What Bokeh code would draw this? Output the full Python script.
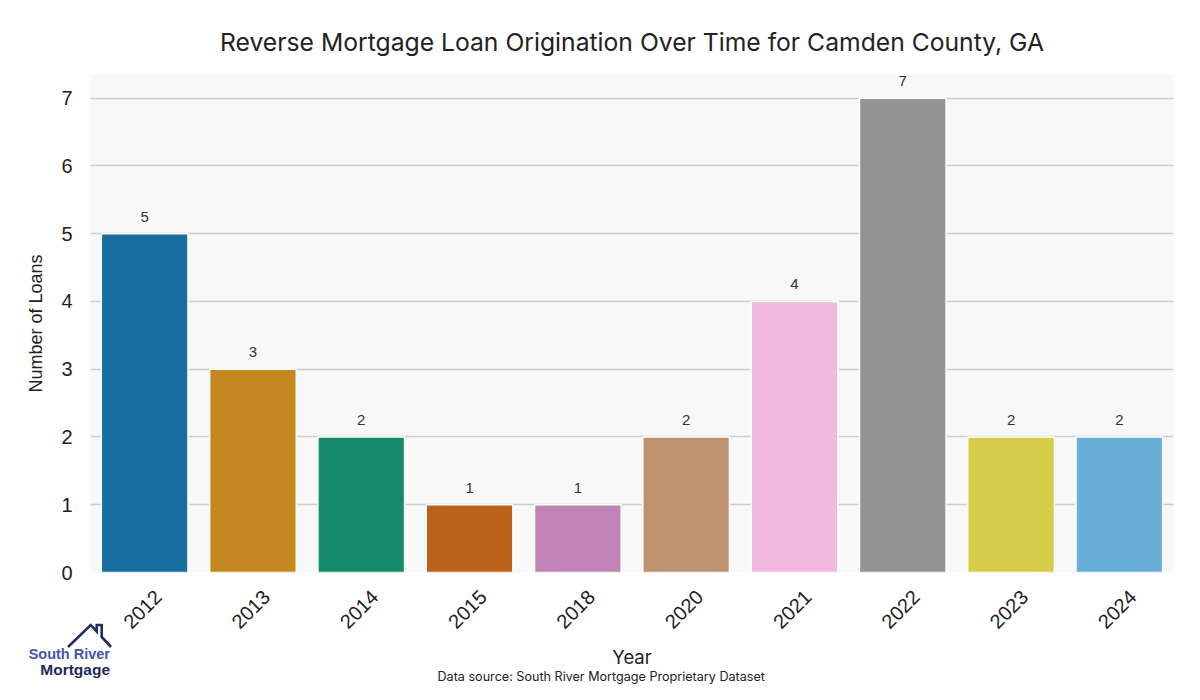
import colorsys
from bokeh.plotting import figure
from bokeh.models import ColumnDataSource, Range1d, FixedTicker, Title, Div
from bokeh.layouts import column
from bokeh.embed import file_html
from bokeh.resources import INLINE
from bokeh.core.properties import value

years = ["2012", "2013", "2014", "2015", "2018", "2020", "2021", "2022", "2023", "2024"]
loans = [5, 3, 2, 1, 1, 2, 4, 7, 2, 2]
base_palette = ["#0173b2", "#de8f05", "#029e73", "#d55e00", "#cc78bc",
                "#ca9161", "#fbafe4", "#949494", "#ece133", "#56b4e9"]
title_text = "Reverse Mortgage Loan Origination Over Time for Camden County, GA"
x_label = "Year"
y_label = "Number of Loans"
source_text = "Data source: South River Mortgage Proprietary Dataset"
logo_top = "South River"
logo_bottom = "Mortgage"


def desat(hexc, prop=0.75):
    r, g, b = (int(hexc[i:i + 2], 16) / 255 for i in (1, 3, 5))
    h, l, s = colorsys.rgb_to_hls(r, g, b)
    r, g, b = colorsys.hls_to_rgb(h, l, s * prop)
    return "#%02x%02x%02x" % (round(r * 255), round(g * 255), round(b * 255))


colors = [desat(c) for c in base_palette]
xpos = list(range(len(years)))

W, H = 1184, 684
FL, FT, FB, FR = 90, 74, 572, 1173  # frame edges in picture pixels
src = ColumnDataSource(dict(x=xpos, top=loans, color=colors, lab=[str(v) for v in loans]))

p = figure(width=W, height=H, x_range=Range1d(-0.5, len(years) - 0.5),
           y_range=Range1d(0, 7.35), output_backend="svg", toolbar_location=None,
           min_border_left=FL, min_border_right=W - FR, min_border_top=FT,
           min_border_bottom=H - FB)
p.background_fill_color = "#f8f8f8"
p.border_fill_color = "white"
p.outline_line_color = None

p.title.text = title_text
p.title.align = "center"
p.title.text_font = "Inter"
p.title.text_font_size = "24.7px"
p.title.text_font_style = "normal"
p.title.text_color = "#222222"
p.title.standoff = 35

p.vbar(x="x", top="top", width=0.8, source=src, fill_color="color",
       line_color="white", line_width=1.5)
p.text(x="x", y="top", text="lab", source=src, text_align="center",
       text_baseline="alphabetic", y_offset=-17, text_font_size="15px",
       text_color="#333333", text_font=value("Liberation Sans"))

p.xgrid.grid_line_color = None
p.ygrid.grid_line_color = "#cccccc"
p.ygrid.grid_line_width = 1.5
p.yaxis.ticker = FixedTicker(ticks=list(range(0, 8)))

# rotated tick labels are end-anchored by Bokeh; shift ticks so label centres sit under bars
shift = 0.125
tick_pos = [i + shift for i in xpos]
p.xaxis.ticker = FixedTicker(ticks=tick_pos)
p.xaxis.major_label_overrides = {t: y for t, y in zip(tick_pos, years)}

for ax in (p.xaxis, p.yaxis):
    ax.axis_line_color = None
    ax.major_tick_line_color = None
    ax.minor_tick_line_color = None
    ax.major_label_text_color = "#222222"
    ax.major_label_text_font = "Liberation Sans"

p.yaxis.major_label_text_font_size = "20px"
p.yaxis.major_label_standoff = 12
p.yaxis.axis_label = y_label
p.yaxis.axis_label_text_font = "Liberation Sans"
p.yaxis.axis_label_text_font_style = "normal"
p.yaxis.axis_label_text_font_size = "18px"
p.yaxis.axis_label_text_color = "#222222"
p.yaxis.axis_label_standoff = 12

p.xaxis.major_label_text_font_size = "20px"
p.xaxis.major_label_orientation = 0.785398
p.xaxis.major_label_standoff = 15
p.xaxis.axis_label = x_label
p.xaxis.axis_label_text_font = "Inter"
p.xaxis.axis_label_text_font_style = "normal"
p.xaxis.axis_label_text_font_size = "18.5px"
p.xaxis.axis_label_text_color = "#222222"
p.xaxis.axis_label_standoff = 8

p.add_layout(Title(text=source_text, align="left", offset=437 - FL, text_font="Inter",
                   text_font_size="12.6px", text_font_style="normal", text_color="#222222",
                   standoff=-7), "below")

# logo drawn as an overlay on the bottom-left corner
logo_html = f"""
<div style="position:relative; height:0; z-index:10;">
<svg style="position:absolute; left:0px; top:-81px;" width="130" height="70"
     xmlns="http://www.w3.org/2000/svg">
<polyline points="68,32 90.7,10 96.7,16.5 96.7,10 101.7,10 101.7,21.9 111,32"
  fill="none" stroke="#232c62" stroke-width="2.6" stroke-linejoin="miter"/>
<text x="110" y="44" text-anchor="end" font-family="Roboto" font-weight="bold"
  font-size="14.5px" fill="#4556a6">{logo_top}</text>
<text x="110" y="60" text-anchor="end" font-family="Roboto" font-weight="bold"
  font-size="15.5px" fill="#1f2a5c">{logo_bottom}</text>
</svg></div>
"""
logo = Div(text=logo_html, width=W, margin=(0, 0, 0, 0))

layout = column(p, logo, spacing=0)
open("out.html", "w").write(file_html(layout, INLINE))
